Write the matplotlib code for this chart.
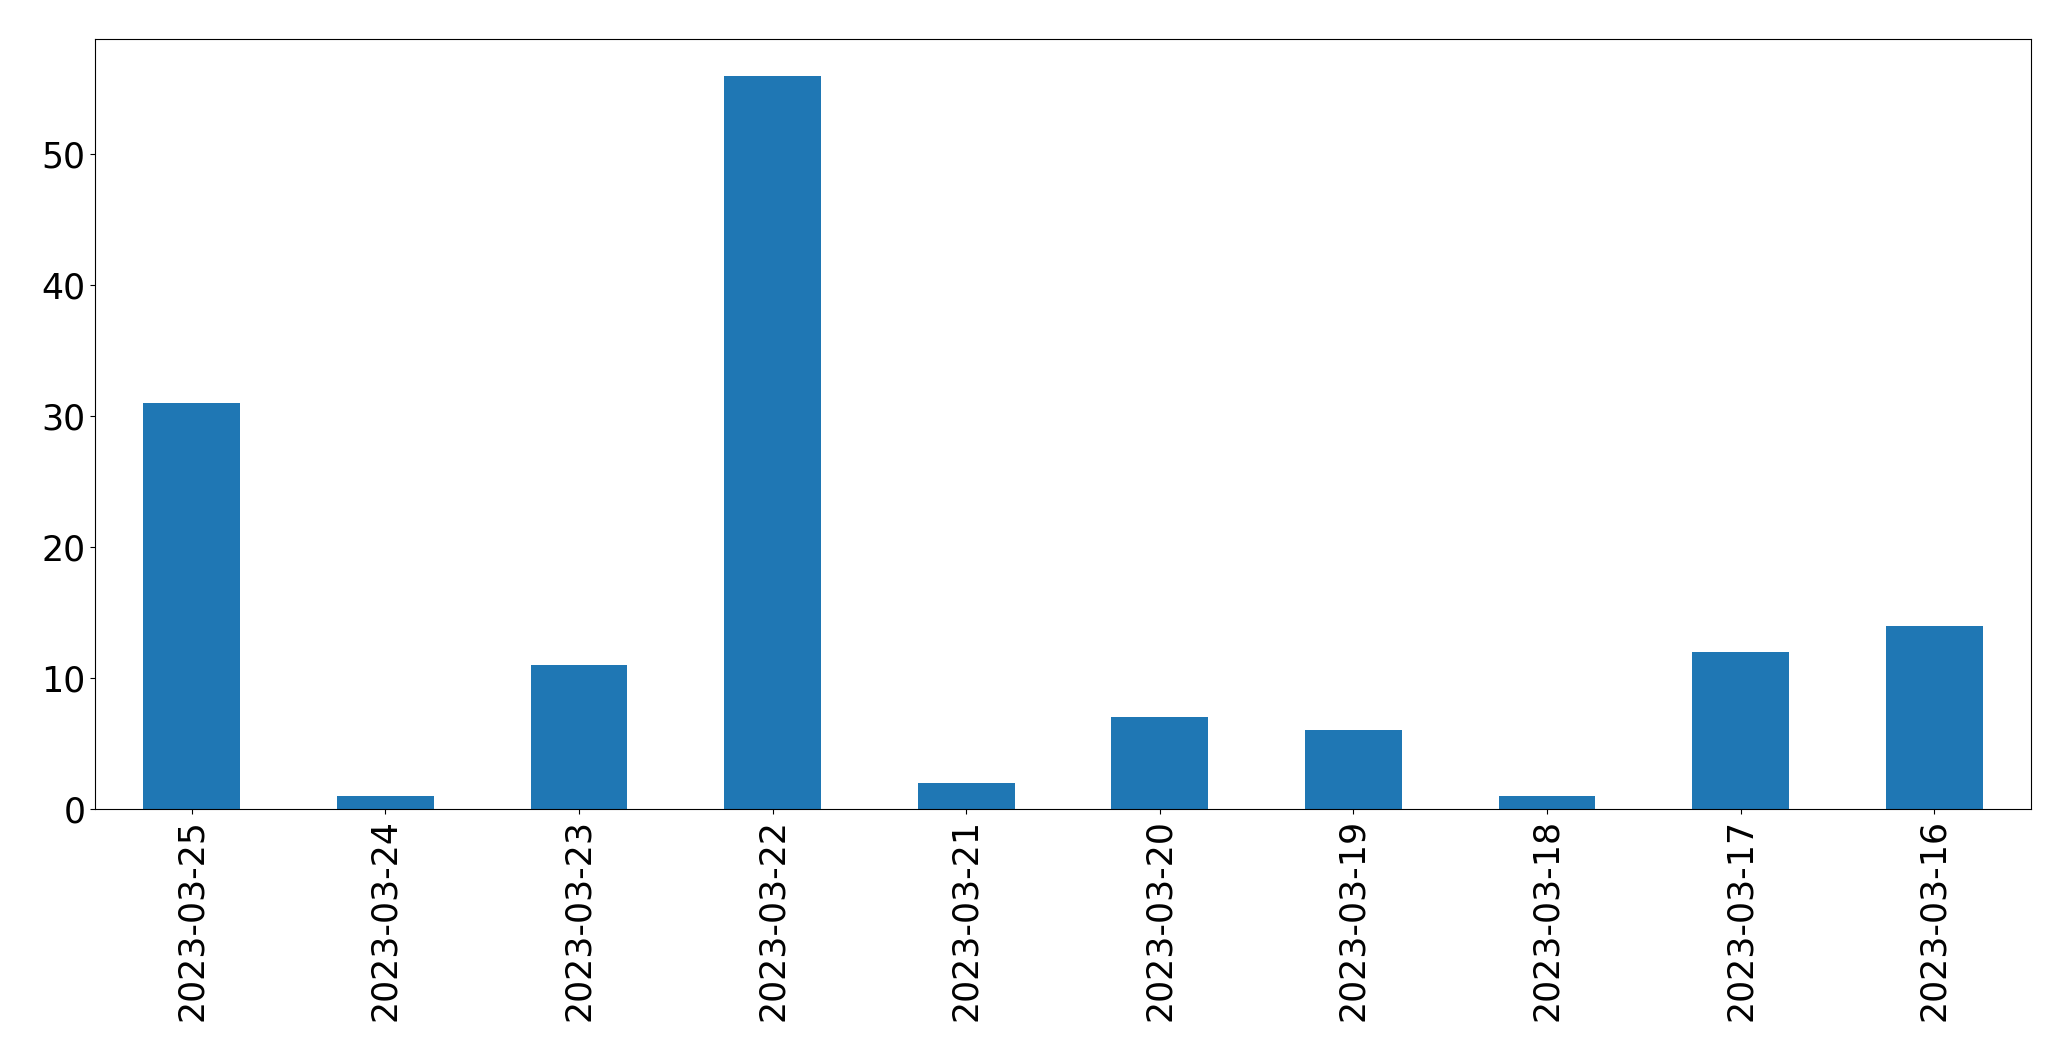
import matplotlib
matplotlib.use("Agg")
import matplotlib.pyplot as plt
import pandas as pd

dates = ["2023-03-25", "2023-03-24", "2023-03-23", "2023-03-22", "2023-03-21",
         "2023-03-20", "2023-03-19", "2023-03-18", "2023-03-17", "2023-03-16"]
counts = [31, 1, 11, 56, 2, 7, 6, 1, 12, 14]

s = pd.Series(counts, index=dates)

fig, ax = plt.subplots(figsize=(20.71, 10.61), dpi=100)
s.plot(kind="bar", ax=ax, color="#1f77b4")
ax.tick_params(axis="both", labelsize=25)
fig.subplots_adjust(left=95 / 2071, right=2031 / 2071, top=1 - 39 / 1061, bottom=1 - 809 / 1061)
fig.savefig("out.png", dpi=100)
